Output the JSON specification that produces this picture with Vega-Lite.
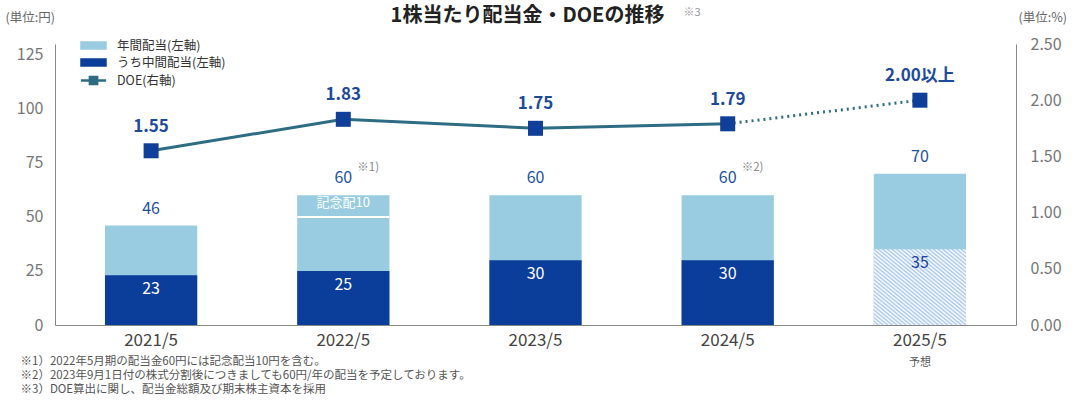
{
  "$schema": "https://vega.github.io/schema/vega-lite/v6.json",
  "width": 961,
  "height": 281,
  "autosize": "none",
  "padding": {"left": 55, "top": 44, "right": 64, "bottom": 75},
  "background": "white",
  "config": {"font": "Noto Sans CJK JP", "view": {"stroke": null}},
  "title": {"text": "1株当たり配当金・DOEの推移", "fontSize": 20, "fontWeight": "bold", "color": "#222222", "anchor": "middle", "dx": -8, "offset": -40, "baseline": "bottom"},
  "datasets": {
    "dividends": [
      {"year": "2021/5", "annual": 46, "interim": 23},
      {"year": "2022/5", "annual": 60, "interim": 25, "ordinary": 50, "memo": "記念配10", "note": "※1)"},
      {"year": "2023/5", "annual": 60, "interim": 30},
      {"year": "2024/5", "annual": 60, "interim": 30, "note": "※2)"},
      {"year": "2025/5", "annual": 70, "interim": 35, "status": "予想"}
    ],
    "doe": [
      {"year": "2021/5", "doe": 1.55, "label": "1.55"},
      {"year": "2022/5", "doe": 1.83, "label": "1.83"},
      {"year": "2023/5", "doe": 1.75, "label": "1.75"},
      {"year": "2024/5", "doe": 1.79, "label": "1.79"},
      {"year": "2025/5", "doe": 2.0, "label": "2.00以上", "status": "予想"}
    ]
  },
  "layer": [
    {
      "data": {"name": "dividends"},
      "encoding": {
        "x": {
          "field": "year", "type": "nominal", "sort": null,
          "scale": {"paddingInner": 0.52, "paddingOuter": 0.26},
          "axis": {
            "labelAngle": 0, "labelFontSize": 17, "labelColor": "#444444", "labelPadding": 7,
            "ticks": false, "domainColor": "#888888",
            "title": ["※1）2022年5月期の配当金60円には記念配当10円を含む。", "※2）2023年9月1日付の株式分割後につきましても60円/年の配当を予定しております。", "※3）DOE算出に関し、配当金総額及び期末株主資本を採用"],
            "titleFontSize": 11.5, "titleFontWeight": "normal", "titleColor": "#555555",
            "titleAnchor": "start", "titleAlign": "left", "titleX": -35, "titleY": 30,
            "titleBaseline": "top", "titleLineHeight": 14
          }
        }
      },
      "layer": [
        {
          "mark": {"type": "bar"},
          "encoding": {
            "y": {
              "field": "annual", "type": "quantitative",
              "scale": {"domain": [0, 125]},
              "axis": {
                "title": "(単位:円)", "titleAngle": 0, "titleAlign": "left", "titleBaseline": "middle",
                "titleX": -50, "titleY": -27, "titleFontSize": 12.5, "titleFontWeight": "normal", "titleColor": "#666666",
                "values": [0, 25, 50, 75, 100, 125], "labelFontSize": 16, "labelColor": "#777777",
                "labelPadding": 12, "ticks": false, "grid": false, "domainColor": "#888888"
              }
            },
            "color": {
              "datum": "年間配当(左軸)", "type": "nominal",
              "scale": {"domain": ["年間配当(左軸)", "うち中間配当(左軸)", "DOE(右軸)"], "range": ["#99cce0", "#0b3e9a", "#2e6c83"]},
              "legend": {
                "orient": "none", "legendX": 31, "legendY": -6, "title": null, "direction": "vertical",
                "labelFontSize": 12.5, "labelColor": "#333333", "labelOffset": 16, "symbolSize": 144, "rowPadding": 0,
                "encode": {
                  "symbols": {
                    "update": {
                      "shape": {"signal": "datum.label === 'DOE(右軸)' ? 'M-2.1,0H2.1M-0.6,-0.6H0.6V0.6H-0.6Z' : 'M-2,-0.5H2V0.5H-2Z'"},
                      "fill": {"signal": "datum.label === 'DOE(右軸)' ? '#0f3f98' : (datum.label === '年間配当(左軸)' ? '#99cce0' : '#0b3e9a')"},
                      "stroke": {"signal": "datum.label === 'DOE(右軸)' ? '#2e6c83' : 'transparent'"},
                      "strokeWidth": {"value": 2.5},
                      "opacity": {"value": 1}
                    }
                  }
                }
              }
            }
          }
        },
        {
          "transform": [{"filter": "datum.status !== '予想'"}],
          "mark": {"type": "bar"},
          "encoding": {
            "y": {"field": "interim", "type": "quantitative"},
            "color": {"datum": "うち中間配当(左軸)", "type": "nominal"}
          }
        },
        {
          "transform": [{"filter": "datum.status === '予想'"}],
          "mark": {
            "type": "bar",
            "fill": {
              "gradient": "linear", "x1": 0, "y1": 1, "x2": 1, "y2": 0,
              "stops": [
                {"offset": 0, "color": "#a9c6ee"}, {"offset": 0.0125, "color": "#ffffff"},
                {"offset": 0.025, "color": "#a9c6ee"}, {"offset": 0.0375, "color": "#ffffff"},
                {"offset": 0.05, "color": "#a9c6ee"}, {"offset": 0.0625, "color": "#ffffff"},
                {"offset": 0.075, "color": "#a9c6ee"}, {"offset": 0.0875, "color": "#ffffff"},
                {"offset": 0.1, "color": "#a9c6ee"}, {"offset": 0.1125, "color": "#ffffff"},
                {"offset": 0.125, "color": "#a9c6ee"}, {"offset": 0.1375, "color": "#ffffff"},
                {"offset": 0.15, "color": "#a9c6ee"}, {"offset": 0.1625, "color": "#ffffff"},
                {"offset": 0.175, "color": "#a9c6ee"}, {"offset": 0.1875, "color": "#ffffff"},
                {"offset": 0.2, "color": "#a9c6ee"}, {"offset": 0.2125, "color": "#ffffff"},
                {"offset": 0.225, "color": "#a9c6ee"}, {"offset": 0.2375, "color": "#ffffff"},
                {"offset": 0.25, "color": "#a9c6ee"}, {"offset": 0.2625, "color": "#ffffff"},
                {"offset": 0.275, "color": "#a9c6ee"}, {"offset": 0.2875, "color": "#ffffff"},
                {"offset": 0.3, "color": "#a9c6ee"}, {"offset": 0.3125, "color": "#ffffff"},
                {"offset": 0.325, "color": "#a9c6ee"}, {"offset": 0.3375, "color": "#ffffff"},
                {"offset": 0.35, "color": "#a9c6ee"}, {"offset": 0.3625, "color": "#ffffff"},
                {"offset": 0.375, "color": "#a9c6ee"}, {"offset": 0.3875, "color": "#ffffff"},
                {"offset": 0.4, "color": "#a9c6ee"}, {"offset": 0.4125, "color": "#ffffff"},
                {"offset": 0.425, "color": "#a9c6ee"}, {"offset": 0.4375, "color": "#ffffff"},
                {"offset": 0.45, "color": "#a9c6ee"}, {"offset": 0.4625, "color": "#ffffff"},
                {"offset": 0.475, "color": "#a9c6ee"}, {"offset": 0.4875, "color": "#ffffff"},
                {"offset": 0.5, "color": "#a9c6ee"}, {"offset": 0.5125, "color": "#ffffff"},
                {"offset": 0.525, "color": "#a9c6ee"}, {"offset": 0.5375, "color": "#ffffff"},
                {"offset": 0.55, "color": "#a9c6ee"}, {"offset": 0.5625, "color": "#ffffff"},
                {"offset": 0.575, "color": "#a9c6ee"}, {"offset": 0.5875, "color": "#ffffff"},
                {"offset": 0.6, "color": "#a9c6ee"}, {"offset": 0.6125, "color": "#ffffff"},
                {"offset": 0.625, "color": "#a9c6ee"}, {"offset": 0.6375, "color": "#ffffff"},
                {"offset": 0.65, "color": "#a9c6ee"}, {"offset": 0.6625, "color": "#ffffff"},
                {"offset": 0.675, "color": "#a9c6ee"}, {"offset": 0.6875, "color": "#ffffff"},
                {"offset": 0.7, "color": "#a9c6ee"}, {"offset": 0.7125, "color": "#ffffff"},
                {"offset": 0.725, "color": "#a9c6ee"}, {"offset": 0.7375, "color": "#ffffff"},
                {"offset": 0.75, "color": "#a9c6ee"}, {"offset": 0.7625, "color": "#ffffff"},
                {"offset": 0.775, "color": "#a9c6ee"}, {"offset": 0.7875, "color": "#ffffff"},
                {"offset": 0.8, "color": "#a9c6ee"}, {"offset": 0.8125, "color": "#ffffff"},
                {"offset": 0.825, "color": "#a9c6ee"}, {"offset": 0.8375, "color": "#ffffff"},
                {"offset": 0.85, "color": "#a9c6ee"}, {"offset": 0.8625, "color": "#ffffff"},
                {"offset": 0.875, "color": "#a9c6ee"}, {"offset": 0.8875, "color": "#ffffff"},
                {"offset": 0.9, "color": "#a9c6ee"}, {"offset": 0.9125, "color": "#ffffff"},
                {"offset": 0.925, "color": "#a9c6ee"}, {"offset": 0.9375, "color": "#ffffff"},
                {"offset": 0.95, "color": "#a9c6ee"}, {"offset": 0.9625, "color": "#ffffff"},
                {"offset": 0.975, "color": "#a9c6ee"}, {"offset": 0.9875, "color": "#ffffff"},
                {"offset": 1, "color": "#a9c6ee"}
              ]
            }
          },
          "encoding": {"y": {"field": "interim", "type": "quantitative"}}
        },
        {
          "transform": [{"filter": "isValid(datum.memo)"}],
          "mark": {"type": "tick", "orient": "horizontal", "color": "white", "thickness": 2, "size": 92, "opacity": 1},
          "encoding": {"y": {"field": "ordinary", "type": "quantitative"}}
        },
        {
          "mark": {"type": "text", "fontSize": 16, "color": "#1e4f9f", "baseline": "bottom", "dy": -9},
          "encoding": {
            "y": {"field": "annual", "type": "quantitative"},
            "text": {"field": "annual", "type": "quantitative"}
          }
        },
        {
          "transform": [{"filter": "isValid(datum.note)"}],
          "mark": {"type": "text", "fontSize": 11.5, "color": "#888888", "align": "left", "baseline": "middle", "dx": 14, "dy": -27},
          "encoding": {
            "y": {"field": "annual", "type": "quantitative"},
            "text": {"field": "note", "type": "nominal"}
          }
        },
        {
          "mark": {"type": "text", "fontSize": 16, "baseline": "top", "dy": 6},
          "encoding": {
            "y": {"field": "interim", "type": "quantitative"},
            "text": {"field": "interim", "type": "quantitative"},
            "color": {"condition": {"test": "datum.status === '予想'", "value": "#1b449c"}, "value": "white"}
          }
        },
        {
          "transform": [{"filter": "isValid(datum.memo)"}],
          "mark": {"type": "text", "fontSize": 13, "color": "white", "baseline": "middle", "dy": 8},
          "encoding": {
            "y": {"field": "annual", "type": "quantitative"},
            "text": {"field": "memo", "type": "nominal"}
          }
        },
        {
          "transform": [{"filter": "datum.status === '予想'"}],
          "mark": {"type": "text", "fontSize": 11, "color": "#555555", "baseline": "middle", "dy": 38},
          "encoding": {
            "y": {"datum": 0, "type": "quantitative"},
            "text": {"field": "status", "type": "nominal"}
          }
        }
      ]
    },
    {
      "data": {"name": "doe"},
      "encoding": {
        "x": {
          "field": "year", "type": "nominal", "sort": null,
          "scale": {"paddingInner": 0.52, "paddingOuter": 0.26},
          "axis": {
            "orient": "top", "labels": false, "ticks": false, "domain": false,
            "title": "※3", "titleFontSize": 11, "titleFontWeight": "normal", "titleColor": "#999999",
            "titleAnchor": "start", "titleAlign": "left", "titleX": 628, "titleY": -32, "titleBaseline": "middle"
          }
        },
        "y": {
          "field": "doe", "type": "quantitative",
          "scale": {"domain": [0, 2.5]},
          "axis": {
            "orient": "right", "title": "(単位:%)", "titleAngle": 0, "titleAlign": "left", "titleBaseline": "middle",
            "titleX": 2, "titleY": -27, "titleFontSize": 12.5, "titleFontWeight": "normal", "titleColor": "#666666",
            "values": [0, 0.5, 1, 1.5, 2, 2.5], "format": ".2f", "labelFontSize": 16, "labelColor": "#777777",
            "labelPadding": 14, "ticks": false, "grid": false, "domainColor": "#888888"
          }
        }
      },
      "layer": [
        {
          "transform": [{"filter": "datum.status !== '予想'"}],
          "mark": {"type": "line", "strokeWidth": 3},
          "encoding": {"color": {"datum": "DOE(右軸)", "type": "nominal"}}
        },
        {
          "transform": [{"filter": "indexof(['2024/5', '2025/5'], datum.year) >= 0"}],
          "mark": {"type": "line", "strokeWidth": 3, "strokeDash": [2, 4]},
          "encoding": {"color": {"datum": "DOE(右軸)", "type": "nominal"}}
        },
        {
          "mark": {"type": "point", "shape": "square", "filled": true, "size": 225, "color": "#0f3f98", "opacity": 1},
          "encoding": {}
        },
        {
          "mark": {"type": "text", "fontSize": 17, "fontWeight": "bold", "color": "#1d4a9b", "baseline": "middle", "dy": -24},
          "encoding": {"text": {"field": "label", "type": "nominal"}}
        }
      ]
    }
  ],
  "resolve": {
    "scale": {"x": "independent", "y": "independent"},
    "axis": {"x": "independent", "y": "independent"}
  }
}
